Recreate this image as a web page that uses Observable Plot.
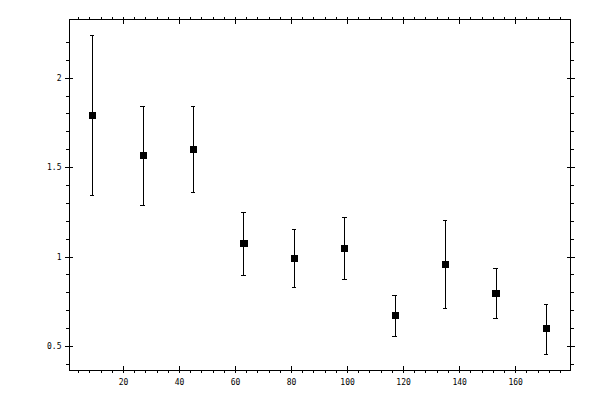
<!DOCTYPE html>
<html><head>
<meta charset="utf-8">
<script src="https://cdn.jsdelivr.net/npm/d3@7"></script>
<script src="https://cdn.jsdelivr.net/npm/@observablehq/plot@0.6"></script>
<style>
body{margin:0;background:#fff}
svg line, svg path, svg rect {shape-rendering: crispEdges;}
</style>
</head><body><div id="chart"></div>
<script>
const xs = [9, 27, 45, 63, 81, 99, 117, 135, 153, 171];
const ys = [1.791, 1.569, 1.601, 1.075, 0.991, 1.047, 0.672, 0.957, 0.795, 0.599];
const lo = [1.345, 1.289, 1.360, 0.896, 0.829, 0.874, 0.555, 0.711, 0.655, 0.457];
const hi = [2.239, 1.842, 1.842, 1.248, 1.153, 1.220, 0.787, 1.207, 0.935, 0.737];

const xMajor = [20, 40, 60, 80, 100, 120, 140, 160];
const xMinor = d3.range(4, 177, 4);
const yMajor = [0.5, 1, 1.5, 2];
const yMinor = d3.range(4, 23).map(v => v / 10);

const data = xs.map((x, i) => ({x, y: ys[i], lo: lo[i], hi: hi[i]}));
const capHalf = 0.8;

const ticksOnly = (fn, anchor, ticks, size, shift) => {
  const o = {anchor, ticks, tickSize: size, fill: "none", label: null, tickFormat: () => ""};
  if (fn === Plot.axisX) o.dy = anchor === "bottom" ? -shift : shift;
  else o.dx = anchor === "left" ? shift : -shift;
  return fn(o);
};

const chart = Plot.plot({
  width: 600,
  height: 400,
  marginLeft: 69,
  marginRight: 30,
  marginTop: 19,
  marginBottom: 30,
  style: {fontFamily: "DejaVu Sans Mono", fontSize: "8px", background: "#fff", color: "#000"},
  x: {domain: [0.7, 179.6]},
  y: {domain: [0.366, 2.328]},
  marks: [
    Plot.frame({stroke: "#000"}),
    ticksOnly(Plot.axisX, "bottom", xMinor, 3, 0),
    ticksOnly(Plot.axisX, "top", xMinor, 3, 0),
    ticksOnly(Plot.axisX, "bottom", xMajor, 7, 4),
    ticksOnly(Plot.axisX, "top", xMajor, 7, 4),
    ticksOnly(Plot.axisY, "left", yMinor, 3, 0),
    ticksOnly(Plot.axisY, "right", yMinor, 3, 0),
    ticksOnly(Plot.axisY, "left", yMajor, 8, 4),
    ticksOnly(Plot.axisY, "right", yMajor, 8, 4),
    Plot.axisX({anchor: "bottom", ticks: xMajor, tickSize: 0, tickPadding: 9, label: null, tickFormat: d => String(d)}),
    Plot.axisY({anchor: "left", ticks: yMajor, tickSize: 0, tickPadding: 8, label: null, tickFormat: d => String(d)}),
    Plot.ruleX(data, {x: "x", y1: "lo", y2: "hi", stroke: "#000", strokeWidth: 1}),
    Plot.ruleY(data, {y: "lo", x1: d => d.x - capHalf, x2: d => d.x + capHalf, stroke: "#000"}),
    Plot.ruleY(data, {y: "hi", x1: d => d.x - capHalf, x2: d => d.x + capHalf, stroke: "#000"}),
    Plot.dot(data, {x: "x", y: "y", symbol: "square", r: 4, fill: "#000", stroke: "none"})
  ]
});
document.getElementById("chart").append(chart);
</script>
</body></html>
